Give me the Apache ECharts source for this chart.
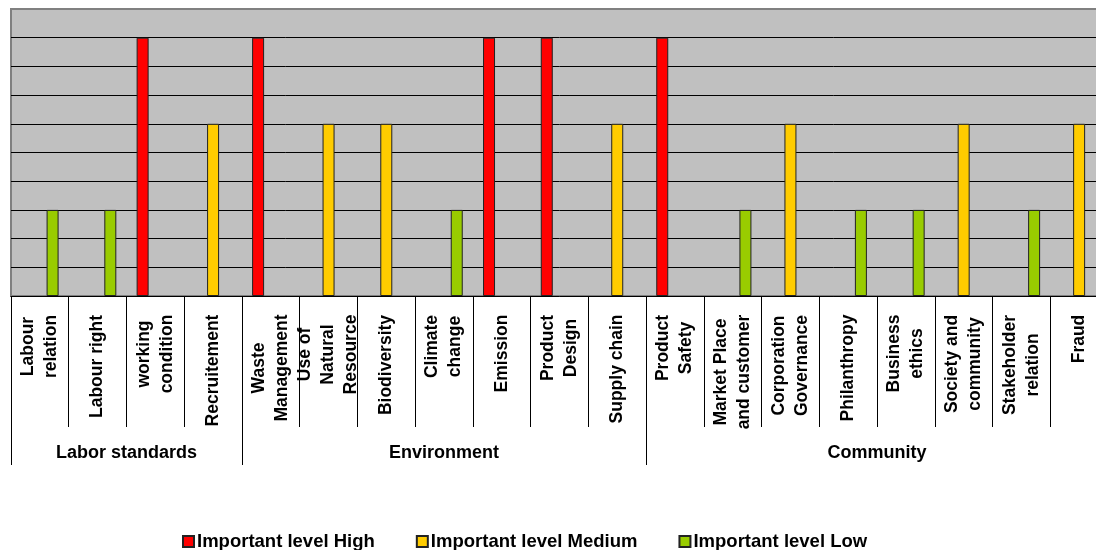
<!DOCTYPE html>
<html>
<head>
<meta charset="utf-8">
<script src="https://cdn.jsdelivr.net/npm/echarts@6/dist/echarts.min.js"></script>
<style>
  html, body { margin: 0; padding: 0; background: #fff; overflow: hidden; }
  #chart { width: 1108px; height: 550px; }
</style>
</head>
<body>
<div id="chart"></div>
<script>
const categories = [
  "Labour\nrelation", "Labour right", "working\ncondition", "Recruitement",
  "Waste\nManagement", "Use of\nNatural\nResource", "Biodiversity", "Climate\nchange",
  "Emission", "Product\nDesign", "Supply chain", "Product\nSafety",
  "Market Place\nand customer", "Corporation\nGovernance", "Philanthropy", "Business\nethics",
  "Society and\ncommunity", "Stakeholder\nrelation", "Fraud"
];
const highValues   = ["-", "-", 9, "-", 9, "-", "-", "-", 9, 9, "-", 9, "-", "-", "-", "-", "-", "-", "-"];
const mediumValues = ["-", "-", "-", 6, "-", 6, 6, "-", "-", "-", 6, "-", "-", 6, "-", "-", 6, "-", 6];
const lowValues    = [3, 3, "-", "-", "-", "-", "-", 3, "-", "-", "-", "-", 3, "-", 3, 3, "-", 3, "-"];
const groupNames = ["Labor standards", "Environment", "Community"];
const groupSizes = [4, 7, 8];

document.addEventListener("DOMContentLoaded", function () {
  const chart = echarts.init(document.getElementById("chart"));
  const labelSize = 17.5;

  // measure each label so its lines can be centred inside the block
  const ctx = document.createElement("canvas").getContext("2d");
  ctx.font = "bold " + labelSize + "px 'Liberation Sans'";
  const rich = {};
  categories.forEach(function (c, i) {
    const w = Math.max.apply(null, c.split("\n").map(l => ctx.measureText(l).width));
    rich["c" + i] = {
      width: Math.ceil(w) + 1,
      align: "center",
      fontSize: labelSize,
      fontWeight: "bold",
      fontFamily: "Liberation Sans",
      lineHeight: 23,
      color: "#000"
    };
  });

  // group boundaries and centres on a 0..19 value scale
  const bounds = [0];
  groupSizes.forEach(n => bounds.push(bounds[bounds.length - 1] + n));
  const centres = groupSizes.map((n, i) => bounds[i] + n / 2);

  const barStyle = (color) => ({ color: color, borderColor: "#222", borderWidth: 1 });

  const option = {
    animation: false,
    textStyle: { fontFamily: "Liberation Sans" },
    grid: {
      left: 11, top: 9, right: 0, height: 287,
      show: true, backgroundColor: "#C0C0C0",
      borderColor: "#808080", borderWidth: 2
    },
    legend: {
      left: 177, top: 527,
      icon: "rect", itemWidth: 11, itemHeight: 11, itemGap: 41,
      textStyle: { fontSize: 18.5, fontWeight: "bold", color: "#000", fontFamily: "Liberation Sans", padding: [0, 0, 0, -2] },
      data: ["Important level High", "Important level Medium", "Important level Low"]
    },
    xAxis: [
      {
        type: "category",
        data: categories,
        position: "bottom",
        axisLine: { lineStyle: { color: "#000", width: 1 } },
        axisTick: { show: true, interval: 0, length: 131, lineStyle: { color: "#000" } },
        axisLabel: {
          interval: 0, rotate: 90, margin: 18,
          formatter: function (v, i) {
            return v.split("\n").map(l => "{c" + i + "|" + l + "}").join("\n");
          },
          rich: rich
        }
      },
      {
        type: "value",
        min: 0, max: 19,
        position: "bottom",
        axisLine: { show: false },
        splitLine: { show: false },
        axisTick: { show: true, customValues: bounds, length: 169, lineStyle: { color: "#000" } },
        axisLabel: {
          customValues: centres,
          margin: 148,
          fontSize: 18, fontWeight: "bold", color: "#000",
          formatter: function (v) {
            return groupNames[centres.indexOf(v)] || "";
          }
        }
      }
    ],
    yAxis: {
      type: "value",
      min: 0, max: 10, interval: 1,
      axisLine: { show: false },
      axisTick: { show: false },
      axisLabel: { show: false },
      splitLine: { show: true, showMinLine: false, showMaxLine: false, lineStyle: { color: "#000", width: 1 } }
    },
    series: [
      { name: "Important level High", type: "bar", data: highValues, barWidth: 12, barGap: "6%", itemStyle: barStyle("#FF0000") },
      { name: "Important level Medium", type: "bar", data: mediumValues, barWidth: 12, barGap: "6%", itemStyle: barStyle("#FFCC00") },
      { name: "Important level Low", type: "bar", data: lowValues, barWidth: 12, barGap: "6%", itemStyle: barStyle("#99CC00") }
    ]
  };
  chart.setOption(option);
});
</script>
</body>
</html>
